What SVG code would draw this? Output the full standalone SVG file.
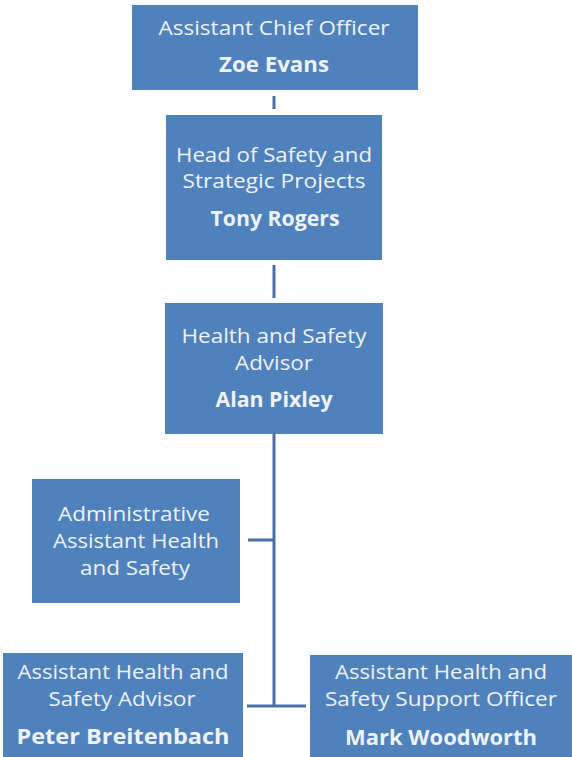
<svg xmlns="http://www.w3.org/2000/svg" width="572" height="757" viewBox="0 0 572 757">
<style>
.box{fill:#4F81BD;}
.t{font-family:"Open Sans","Liberation Sans",sans-serif;font-size:20.5px;fill:#EEF3FA;text-anchor:middle;}
.b{font-weight:bold;}
.c{stroke:#4A6FA8;stroke-width:3;fill:none;}
</style>
<rect width="572" height="757" fill="#FFFFFF"/>
<g id="connectors">
<line class="c" x1="274" y1="96" x2="274" y2="109"/>
<line class="c" x1="274" y1="265" x2="274" y2="298"/>
<line class="c" x1="274" y1="434" x2="274" y2="706"/>
<line class="c" x1="248" y1="540" x2="274" y2="540"/>
<line class="c" x1="247" y1="706" x2="306" y2="706"/>
</g>
<g id="aco">
<rect class="box" x="132" y="5" width="286" height="85"/>
<text class="t" x="274" y="35" textLength="231" lengthAdjust="spacingAndGlyphs">Assistant Chief Officer</text>
<text class="t b" x="274" y="72" textLength="110" lengthAdjust="spacingAndGlyphs">Zoe Evans</text>
</g>
<g id="head">
<rect class="box" x="166" y="115" width="216" height="145"/>
<text class="t" x="274" y="162" textLength="196" lengthAdjust="spacingAndGlyphs">Head of Safety and</text>
<text class="t" x="274" y="188" textLength="183" lengthAdjust="spacingAndGlyphs">Strategic Projects</text>
<text class="t b" x="275" y="226" textLength="129" lengthAdjust="spacingAndGlyphs">Tony Rogers</text>
</g>
<g id="hsa">
<rect class="box" x="165" y="303" width="218" height="131"/>
<text class="t" x="274" y="343" textLength="185" lengthAdjust="spacingAndGlyphs">Health and Safety</text>
<text class="t" x="274" y="370" textLength="78" lengthAdjust="spacingAndGlyphs">Advisor</text>
<text class="t b" x="274" y="407" textLength="117" lengthAdjust="spacingAndGlyphs">Alan Pixley</text>
</g>
<g id="admin">
<rect class="box" x="32" y="479" width="208" height="124"/>
<text class="t" x="134" y="521" textLength="152" lengthAdjust="spacingAndGlyphs">Administrative</text>
<text class="t" x="136" y="548" textLength="166" lengthAdjust="spacingAndGlyphs">Assistant Health</text>
<text class="t" x="135" y="575" textLength="110" lengthAdjust="spacingAndGlyphs">and Safety</text>
</g>
<g id="ahsa">
<rect class="box" x="3" y="653" width="240" height="104"/>
<text class="t" x="123" y="679" textLength="211" lengthAdjust="spacingAndGlyphs">Assistant Health and</text>
<text class="t" x="122" y="706" textLength="147" lengthAdjust="spacingAndGlyphs">Safety Advisor</text>
<text class="t b" x="123" y="744" textLength="213" lengthAdjust="spacingAndGlyphs">Peter Breitenbach</text>
</g>
<g id="ahsso">
<rect class="box" x="310" y="655" width="262" height="102"/>
<text class="t" x="441" y="679" textLength="212" lengthAdjust="spacingAndGlyphs">Assistant Health and</text>
<text class="t" x="441" y="706" textLength="232" lengthAdjust="spacingAndGlyphs">Safety Support Officer</text>
<text class="t b" x="441" y="745" textLength="192" lengthAdjust="spacingAndGlyphs">Mark Woodworth</text>
</g>
</svg>
